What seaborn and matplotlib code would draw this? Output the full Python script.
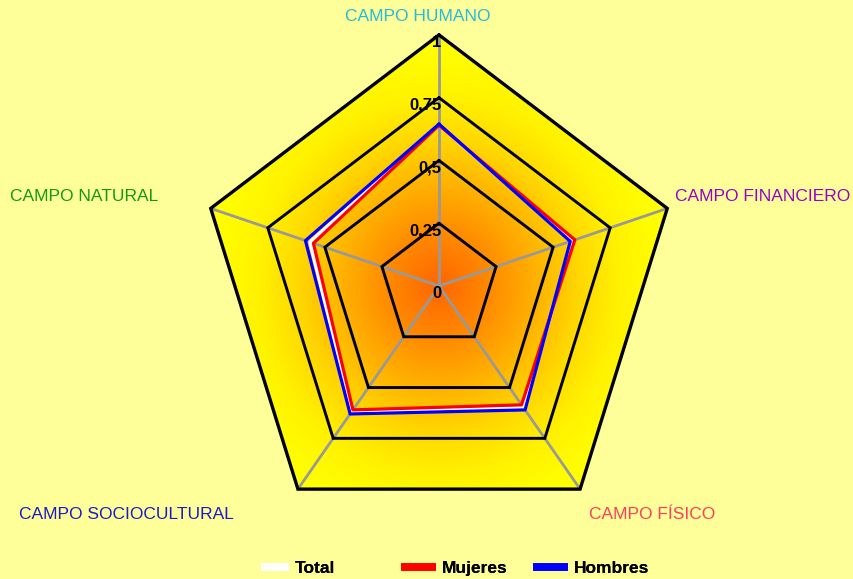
import numpy as np
import pandas as pd
import matplotlib
matplotlib.use("Agg")
import matplotlib.pyplot as plt
import seaborn as sns
from matplotlib.colors import LinearSegmentedColormap
from matplotlib.patches import Polygon
from matplotlib.lines import Line2D

# Campos (clockwise from the top) and index values per group
categorias = ["CAMPO HUMANO", "CAMPO FINANCIERO", "CAMPO FÍSICO",
              "CAMPO SOCIOCULTURAL", "CAMPO NATURAL"]
total = [0.64, 0.585, 0.60, 0.62, 0.565]
mujeres = [0.64, 0.595, 0.585, 0.61, 0.55]
hombres = [0.645, 0.575, 0.61, 0.63, 0.585]
niveles = [0.25, 0.5, 0.75, 1.0]
etiquetas_nivel = ["0", "0,25", "0,5", "0,75", "1"]

colores_cat = ["#22BBDD", "#9A00C8", "#FF3D5F", "#1A1AC8", "#129B12"]

sns.set_theme(style="white")
plt.rcParams["font.family"] = ["Liberation Sans", "DejaVu Sans"]
plt.rcParams["text.color"] = "black"

fig = plt.figure(figsize=(8.54, 5.79), dpi=100, facecolor="#FFFF99")
ax = fig.add_axes([0, 0, 1, 1])
ax.set_facecolor("#FFFF99")
XL, YL = (-1.829, 1.729), (-1.167, 1.139)

n = len(categorias)
ang = np.deg2rad(90 - 72 * np.arange(n))
ux, uy = np.cos(ang), np.sin(ang)


def cerrar(v):
    v = np.asarray(v, dtype=float)
    x = np.append(v * ux, v[0] * ux[0])
    y = np.append(v * uy, v[0] * uy[0])
    return x, y


# Radial gradient fill inside the outer pentagon
cmap = LinearSegmentedColormap.from_list(
    "campo", [(0.0, "#FF6600"), (0.2, "#FF8600"), (0.42, "#FFB000"),
              (0.62, "#FFD800"), (0.8, "#FFF200"), (1.0, "#FFFF00")])
gx = np.linspace(XL[0], XL[1], 700)
gy = np.linspace(YL[0], YL[1], 460)
X, Y = np.meshgrid(gx, gy)
R = np.clip(np.sqrt(X ** 2 + Y ** 2) / 0.95, 0, 1)
img = ax.imshow(cmap(R), extent=(gx[0], gx[-1], gy[0], gy[-1]),
                origin="lower", aspect="auto", zorder=1, interpolation="bilinear")
ox, oy = cerrar([1.0] * n)
borde = Polygon(np.column_stack([ox, oy]), closed=True, transform=ax.transData)
img.set_clip_path(borde)

# Spokes
for k in range(n):
    ax.plot([0, ux[k]], [0, uy[k]], color="#999999", lw=2.0, zorder=2,
            solid_capstyle="butt")

# Grid rings
for lv in niveles:
    rx, ry = cerrar([lv] * n)
    ax.plot(rx, ry, color="black", lw=2.1 if lv < 1 else 2.4, zorder=3,
            solid_joinstyle="miter")

# Series
series = [("Total", total, "white"), ("Mujeres", mujeres, "#FF0000"),
          ("Hombres", hombres, "#0000FF")]
for nombre, vals, col in series:
    sx, sy = cerrar(vals)
    df = pd.DataFrame({"x": sx, "y": sy})
    sns.lineplot(data=df, x="x", y="y", sort=False, color=col, lw=2.3,
                 ax=ax, zorder=4, legend=False, estimator=None)
ax.set_xlim(*XL)
ax.set_ylim(*YL)
ax.set_xlabel("")
ax.set_ylabel("")
ax.axis("off")

# Level labels along the top spoke
for lv, txt in zip([0] + niveles, etiquetas_nivel):
    ax.text(0.01, lv - 0.03, txt, ha="right", va="center", fontsize=12,
            fontweight="bold", color="black", zorder=6)

# Category labels
pos_cat = [(-0.392, 1.072), (0.983, 0.355), (0.625, -0.912),
           (-1.75, -0.912), (-1.7875, 0.355)]
for (px, py), txt, col in zip(pos_cat, categorias, colores_cat):
    ax.text(px, py, txt, ha="left", va="center", fontsize=12.5, color=col,
            zorder=6)

# Legend entries
pos_ley = [(0.306, "Total", "white", 1.6), (0.470, "Mujeres", "#FF0000", 2.0),
           (0.624, "Hombres", "#0000FF", 2.0)]
for x0, nombre, col, hl in pos_ley:
    h = Line2D([], [], color=col, lw=5.5, solid_capstyle="butt")
    leg = fig.legend([h], [nombre], loc="center left",
                     bbox_to_anchor=(x0, 0.018), frameon=False,
                     borderpad=0, borderaxespad=0, handlelength=hl,
                     handletextpad=0.35, labelcolor="black",
                     prop={"weight": "bold", "size": 12.5})
    fig.add_artist(leg)

fig.savefig("out.png", dpi=100, facecolor=fig.get_facecolor())
